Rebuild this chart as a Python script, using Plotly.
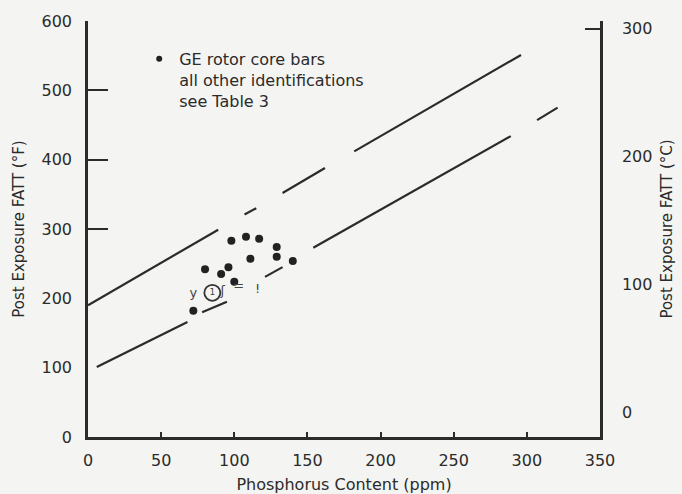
import plotly.graph_objects as go

# ---- data ----
x_ticks = [0, 50, 100, 150, 200, 250, 300, 350]
f_ticks = [0, 100, 200, 300, 400, 500, 600]
c_ticks = [0, 100, 200, 300]

# GE rotor core bars (filled dots)
ge_ppm = [72, 80, 91, 96, 98, 100, 108, 111, 117, 129, 129, 140]
ge_fatt = [182, 242, 235, 245, 283, 224, 289, 257, 286, 274, 260, 254]

# other identifications (small symbols, see Table 3)
other_ppm = [72, 92, 103, 116]
other_fatt = [206, 209, 216, 212]
other_txt = ["y", "ʃ", "=", "!"]
circled_ppm = [85]
circled_fatt = [208]
circled_txt = ["1"]

# scatter band lines (segments, as drawn with breaks)
upper_ppm = [0, 89, None, 107, 115, None, 133, 162, None, 182, 296]
upper_fatt = [190, 299, None, 321, 330, None, 352, 388, None, 412, 551]
lower_ppm = [6, 68, None, 78, 95, None, 121, 133, None, 154, 289, None, 307, 321]
lower_fatt = [101, 166, None, 180, 195, None, 231, 245, None, 273, 434, None, 457, 475]

legend_text = "GE rotor core bars<br>all other identifications<br>see Table 3"

ink = "#2b2b2b"
bg = "#f4f4f2"
font = "DejaVu Sans"

fig = go.Figure()
fig.add_trace(go.Scatter(x=upper_ppm, y=upper_fatt, mode="lines",
                         line=dict(color=ink, width=2.2), showlegend=False,
                         connectgaps=False))
fig.add_trace(go.Scatter(x=lower_ppm, y=lower_fatt, mode="lines",
                         line=dict(color=ink, width=2.2), showlegend=False,
                         connectgaps=False))
fig.add_trace(go.Scatter(x=ge_ppm, y=ge_fatt, mode="markers",
                         marker=dict(color="#222222", size=8),
                         showlegend=False))
# legend key for the dots (small bullet as in the original)
fig.add_trace(go.Scatter(x=[None], y=[None], mode="markers",
                         marker=dict(color="#222222", size=6),
                         name=legend_text, showlegend=True))
fig.add_trace(go.Scatter(x=other_ppm, y=other_fatt, mode="text", text=other_txt,
                         textfont=dict(family=font, size=13, color="#444444"),
                         showlegend=False))
fig.add_trace(go.Scatter(x=circled_ppm, y=circled_fatt, mode="markers+text",
                         text=circled_txt, textposition="middle center",
                         marker=dict(symbol="circle-open", size=16, color="#333333",
                                     line=dict(color="#333333", width=1.8)),
                         textfont=dict(family=font, size=9, color="#444444"),
                         showlegend=False))
# helper traces to activate overlay axes
fig.add_trace(go.Scatter(x=[None], y=[None], yaxis="y2", showlegend=False))
fig.add_trace(go.Scatter(x=[None], y=[None], yaxis="y3", showlegend=False))
fig.add_trace(go.Scatter(x=[None], y=[None], yaxis="y4", showlegend=False))

f_range = [0, 600]
c_range = [-19, 306]

fig.update_layout(
    width=682, height=494,
    margin=dict(l=88, r=82, t=21, b=57, autoexpand=False),
    paper_bgcolor=bg, plot_bgcolor=bg,
    font=dict(family=font, color=ink, size=15),
    xaxis=dict(range=[0, 350], tickvals=x_ticks, ticks="inside", ticklen=5,
               tickwidth=2, tickcolor=ink, showline=True, linecolor=ink,
               linewidth=2.5, showgrid=False, zeroline=False, mirror=False,
               automargin=False,
               tickfont=dict(size=16, color=ink), ticklabelstandoff=7,
               title=dict(text="Phosphorus Content (ppm)",
                          font=dict(size=16, color=ink), standoff=12)),
    yaxis=dict(range=f_range, tickvals=f_ticks, ticks="", showline=True,
               linecolor=ink, linewidth=2.5, showgrid=False, zeroline=False,
               automargin=False,
               tickfont=dict(size=16, color=ink), ticklabelstandoff=10,
               title=dict(text="Post Exposure FATT (°F)",
                          font=dict(size=15, color=ink), standoff=14)),
    yaxis3=dict(range=f_range, tickvals=[300, 400, 500, 600], ticks="inside",
                ticklen=20, tickwidth=2, tickcolor=ink, showticklabels=False,
                overlaying="y", side="left", showgrid=False, zeroline=False,
                showline=False, automargin=False),
    yaxis2=dict(range=c_range, tickvals=c_ticks, ticks="", showline=True,
                linecolor=ink, linewidth=2.5, overlaying="y", side="right",
                showgrid=False, zeroline=False, automargin=False,
                tickfont=dict(size=16, color=ink), ticklabelstandoff=16,
                title=dict(text="Post Exposure FATT (°C)",
                           font=dict(size=15, color=ink), standoff=11)),
    yaxis4=dict(range=c_range, tickvals=[300], ticks="inside", ticklen=15,
                tickwidth=2, tickcolor=ink, showticklabels=False,
                overlaying="y", side="right", showgrid=False, zeroline=False,
                showline=False, automargin=False),
    legend=dict(x=0.1, y=0.95, xanchor="left", yanchor="top",
                bgcolor="rgba(0,0,0,0)", valign="top", tracegroupgap=0,
                font=dict(size=16, color=ink)),
)

fig.write_html("out.html")
